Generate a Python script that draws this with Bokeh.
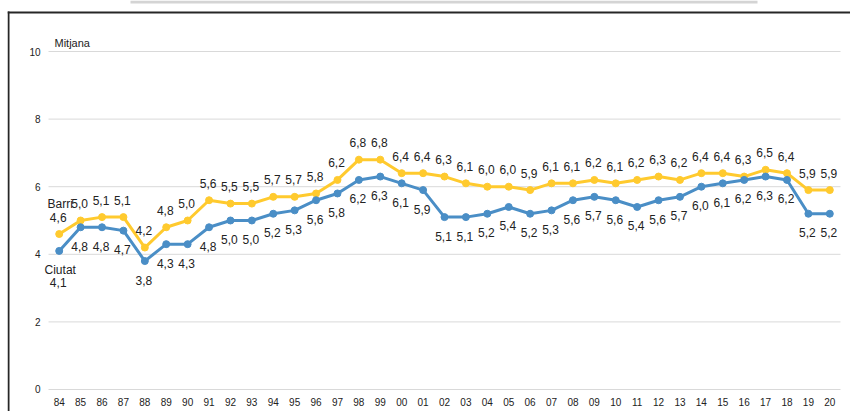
from bokeh.plotting import figure
from bokeh.models import FixedTicker, Range1d, ColumnDataSource, BoxAnnotation, LinearAxis
from bokeh.core.properties import value
from bokeh.embed import file_html
from bokeh.resources import INLINE

years = ["84", "85", "86", "87", "88", "89", "90", "91", "92", "93", "94", "95",
         "96", "97", "98", "99", "00", "01", "02", "03", "04", "05", "06", "07",
         "08", "09", "10", "11", "12", "13", "14", "15", "16", "17", "18", "19", "20"]
barri = [4.6, 5.0, 5.1, 5.1, 4.2, 4.8, 5.0, 5.6, 5.5, 5.5, 5.7, 5.7,
         5.8, 6.2, 6.8, 6.8, 6.4, 6.4, 6.3, 6.1, 6.0, 6.0, 5.9, 6.1,
         6.1, 6.2, 6.1, 6.2, 6.3, 6.2, 6.4, 6.4, 6.3, 6.5, 6.4, 5.9, 5.9]
ciutat = [4.1, 4.8, 4.8, 4.7, 3.8, 4.3, 4.3, 4.8, 5.0, 5.0, 5.2, 5.3,
          5.6, 5.8, 6.2, 6.3, 6.1, 5.9, 5.1, 5.1, 5.2, 5.4, 5.2, 5.3,
          5.6, 5.7, 5.6, 5.4, 5.6, 5.7, 6.0, 6.1, 6.2, 6.3, 6.2, 5.2, 5.2]
series_names = ["Barri", "Ciutat"]
y_ticks = [0, 2, 4, 6, 8, 10]
axis_title = "Mitjana"

YELLOW = "#FFCA2E"
BLUE = "#4A8EC6"
FONT = "Liberation Sans"
TXT = "#222222"

def fmt(v):
    return f"{v:.1f}".replace(".", ",")

idx = list(range(len(years)))
n = len(years)

p = figure(width=850, height=411, x_axis_type=None, y_axis_type=None,
           x_range=Range1d(-2.416, n - 0.033), y_range=Range1d(-0.651, 11.509),
           output_backend="svg", toolbar_location=None,
           min_border_left=7, min_border_right=0, min_border_top=0, min_border_bottom=0)
p.outline_line_color = None
p.background_fill_color = "white"
p.border_fill_color = "white"

# axes placed at fixed data locations inside the plot area
xaxis = LinearAxis(fixed_location=0, ticker=FixedTicker(ticks=idx),
                   major_label_overrides={i: y for i, y in zip(idx, years)})
yaxis = LinearAxis(fixed_location=-0.5, ticker=FixedTicker(ticks=y_ticks))
for ax in (xaxis, yaxis):
    ax.axis_line_color = None
    ax.major_tick_line_color = None
    ax.minor_tick_line_color = None
    ax.major_tick_out = 0
    ax.major_tick_in = 0
    ax.major_label_text_font = FONT
    ax.major_label_text_font_size = "10px"
    ax.major_label_text_color = TXT
yaxis.major_label_standoff = 8
xaxis.major_label_standoff = 9
p.add_layout(xaxis, "below")
p.add_layout(yaxis, "left")

# horizontal gridlines spanning the category area
p.segment(x0=[-0.5] * len(y_ticks), x1=[n - 0.5] * len(y_ticks), y0=y_ticks, y1=y_ticks,
          line_color="#D9D9D9", line_width=1)

# chart-area border (left and top edges) and the grey strip above it
cu = dict(left_units="canvas", right_units="canvas", top_units="canvas", bottom_units="canvas")
p.add_layout(BoxAnnotation(left=7, right=9, top=11, bottom=411, fill_color="#262626",
                           fill_alpha=1, line_color=None, level="overlay", **cu))
p.add_layout(BoxAnnotation(left=7, right=850, top=11, bottom=13, fill_color="#262626",
                           fill_alpha=1, line_color=None, level="overlay", **cu))
p.add_layout(BoxAnnotation(left=130, right=757, top=0, bottom=3, fill_color="#D4D4D4",
                           fill_alpha=1, line_color=None, level="overlay", **cu))

src_b = ColumnDataSource(dict(x=idx, y=barri, t=[fmt(v) for v in barri]))
src_c = ColumnDataSource(dict(x=idx, y=ciutat, t=[""] + [fmt(v) for v in ciutat[1:]]))

p.line("x", "y", source=src_b, line_color=YELLOW, line_width=3, line_join="round")
p.scatter("x", "y", source=src_b, size=7, fill_color=YELLOW, line_color=YELLOW)
p.line("x", "y", source=src_c, line_color=BLUE, line_width=3, line_join="round")
p.scatter("x", "y", source=src_c, size=7, fill_color=BLUE, line_color=BLUE)

p.text("x", "y", "t", source=src_b, text_align="center", text_baseline="middle",
       x_offset=-1, y_offset=-17, text_font=value(FONT), text_font_size="12px", text_color=TXT)
p.text("x", "y", "t", source=src_c, text_align="center", text_baseline="middle",
       x_offset=-1, y_offset=19, text_font=value(FONT), text_font_size="12px", text_color=TXT)

# series name labels on first point
p.text(x=[idx[0]], y=[barri[0]], text=[series_names[0]], text_align="center",
       text_baseline="middle", x_offset=1, y_offset=-30, text_font=value(FONT),
       text_font_size="12px", text_color=TXT)
p.text(x=[idx[0]], y=[ciutat[0]], text=[series_names[1]], text_align="center",
       text_baseline="middle", x_offset=1, y_offset=19, text_font=value(FONT),
       text_font_size="12px", text_color=TXT)
p.text(x=[idx[0]], y=[ciutat[0]], text=[fmt(ciutat[0])], text_align="center",
       text_baseline="middle", x_offset=-1, y_offset=32, text_font=value(FONT),
       text_font_size="12px", text_color=TXT)

p.text(x=[-0.5], y=[10.24], text=[axis_title], text_align="left",
       text_baseline="middle", x_offset=6, text_font=value(FONT),
       text_font_size="11px", text_color=TXT)

open("out.html", "w").write(file_html(p, INLINE))
